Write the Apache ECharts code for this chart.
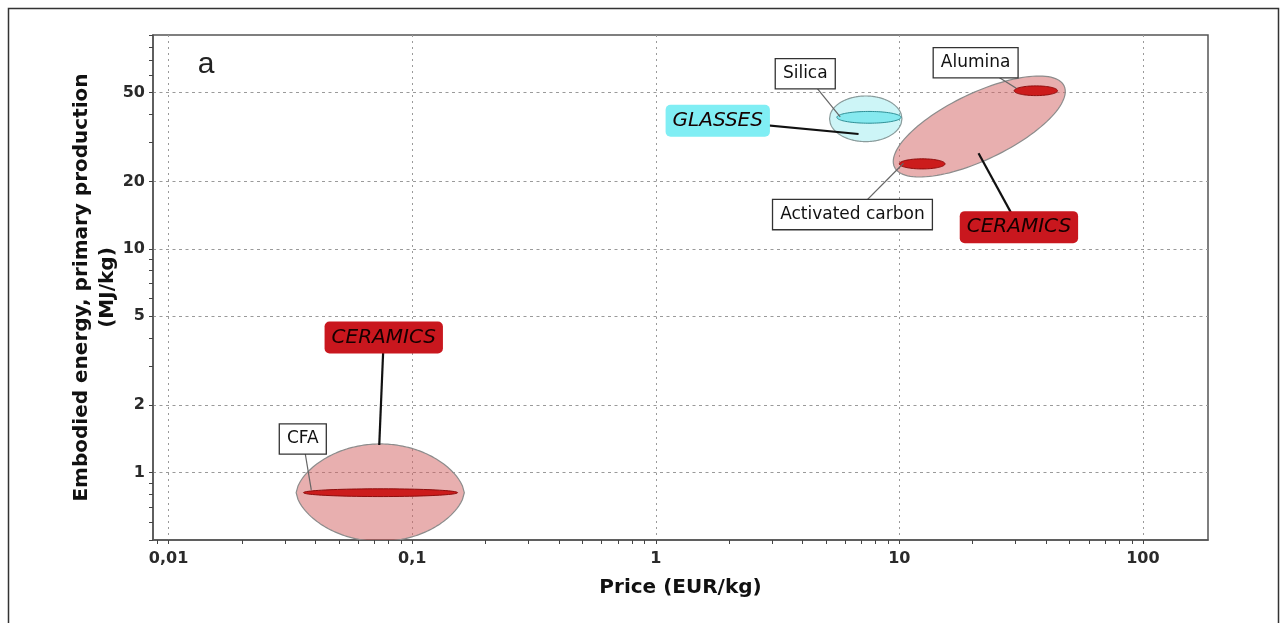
<!DOCTYPE html>
<html>
<head>
<meta charset="utf-8">
<script src="https://cdn.jsdelivr.net/npm/echarts@6/dist/echarts.min.js"></script>
<style>
  html, body { margin: 0; padding: 0; background: #fff; }
  #chart { width: 1282px; height: 623px; }
</style>
</head>
<body>
<div id="chart"></div>
<script>
// material bubbles: price (EUR/kg) and embodied energy (MJ/kg) ranges
var members = ['CFA', 'Activated carbon', 'Alumina', 'Silica'];
var memberPriceLow = [0.0358, 10.0, 29.6, 5.54];
var memberPriceHigh = [0.1536, 15.4, 44.6, 10.15];
var memberEnergyLow = [0.782, 22.8, 48.5, 36.5];
var memberEnergyHigh = [0.847, 25.3, 53.6, 41.2];
var memberFamily = ['CERAMICS', 'CERAMICS', 'CERAMICS', 'GLASSES'];

// family envelopes (the last one is given by its two tips)
var envelopes = ['CERAMICS', 'GLASSES', 'CERAMICS'];
var envPriceLow = [0.0334, 5.17, 9.55];
var envPriceHigh = [0.1637, 10.25, 47.45];
var envEnergyLow = [0.493, 30.2, 23.23];
var envEnergyHigh = [1.344, 48.3, 53.6];

var priceTicks = [0.01, 0.1, 1, 10, 100];
var energyTicks = [1, 2, 5, 10, 20, 50];

// label boxes: text, box anchor [price, energy], leader target [price, energy], kind
var callouts = [
    ['Silica', [4.109, 60.76], [5.72, 38.92], 'member'],
    ['Alumina', [20.57, 68.05], [30.20, 52.29], 'member'],
    ['Activated carbon', [6.42, 14.25], [10.40, 24.16], 'member'],
    ['CFA', [0.03556, 1.414], [0.03853, 0.837], 'member'],
    ['GLASSES', [1.797, 37.46], [6.80, 32.67], 'GLASSES'],
    ['CERAMICS', [30.97, 12.52], [21.14, 26.78], 'CERAMICS'],
    ['CERAMICS', [0.07644, 4.021], [0.07326, 1.330], 'CERAMICS']
];

var envStyle = [
    {kind: 'lens', q: 0.63, fill: 'rgba(210,95,95,0.5)', stroke: '#8c8c8c'},
    {kind: 'lens', q: 0.5, fill: 'rgba(130,230,235,0.4)', stroke: '#8a9c9c'},
    {kind: 'tilt', ratio: 0.354, fill: 'rgba(210,95,95,0.5)', stroke: '#8c8c8c'}
];
var memberFill = {CERAMICS: '#cc1c1c', GLASSES: '#86e9ef'};
var memberStroke = {CERAMICS: '#8e0d0d', GLASSES: '#2f8f96'};
var boxFill = {GLASSES: '#80eef4', CERAMICS: '#c9171e'};

function lg(v) { return Math.log(v) / Math.LN10; }
function pw(v) { return Math.pow(10, v); }

// minor ticks 2..9 in every decade
function minorTicks(lo, hi) {
    var out = [];
    for (var e = lo; e <= hi; e++) {
        for (var m = 1; m <= 9; m++) out.push(+(m * Math.pow(10, e)).toPrecision(3));
    }
    return out;
}
var xMinor = minorTicks(-3, 2);
var yMinor = minorTicks(-1, 1);

var axisFont = {fontFamily: 'DejaVu Sans', fontWeight: 'bold', fontSize: 16, color: '#2a2a2a'};

var myChart = echarts.init(document.getElementById('chart'));

var option = {
    backgroundColor: '#fff',
    animation: false,
    grid: {
        left: 153, top: 35, right: 74, bottom: 83,
        show: true, borderColor: '#555', borderWidth: 1.5,
        outerBoundsMode: 'none'
    },
    graphic: [
        {type: 'rect', left: 6, top: 6, z: 100, silent: true,
         shape: {width: 1270, height: 700},
         style: {fill: null, stroke: '#333', lineWidth: 1.5}},
        {type: 'text', x: 206, y: 65, z: 100,
         style: {text: 'a', font: '30px "Liberation Sans"', fill: '#222', align: 'center', verticalAlign: 'middle'}}
    ],
    xAxis: [
        {
            type: 'log', logBase: 10, min: 0.00863, max: 185,
            name: 'Price (EUR/kg)', nameLocation: 'middle', nameGap: 38, nameMoveOverlap: false,
            nameTextStyle: {fontFamily: 'DejaVu Sans', fontWeight: 'bold', fontSize: 20, color: '#111'},
            axisLine: {show: true, lineStyle: {color: '#555', width: 1.5}},
            axisTick: {show: true, length: 4, customValues: priceTicks, lineStyle: {color: '#444'}},
            axisLabel: Object.assign({customValues: priceTicks, margin: 11,
                formatter: function (v) { return String(v).replace('.', ','); }}, axisFont),
            splitLine: {show: true, lineStyle: {color: '#9a9a9a', width: 1, type: [2, 4]}}
        },
        {
            type: 'log', logBase: 10, min: 0.00863, max: 185, position: 'bottom',
            axisLine: {show: false},
            axisTick: {show: true, length: 4, customValues: xMinor, lineStyle: {color: '#444'}},
            axisLabel: {show: false},
            splitLine: {show: false}
        }
    ],
    yAxis: [
        {
            type: 'log', logBase: 10, min: 0.5, max: 90.5,
            name: 'Embodied energy, primary production\n(MJ/kg)', nameLocation: 'middle', nameGap: 32,
            nameRotate: 90, nameMoveOverlap: false,
            nameTextStyle: {fontFamily: 'DejaVu Sans', fontWeight: 'bold', fontSize: 20, lineHeight: 26, color: '#111'},
            axisLine: {show: true, lineStyle: {color: '#555', width: 1.5}},
            axisTick: {show: true, length: 4, customValues: energyTicks, lineStyle: {color: '#444'}},
            axisLabel: Object.assign({customValues: energyTicks, margin: 8}, axisFont),
            splitLine: {show: true, lineStyle: {color: '#9a9a9a', width: 1, type: [3, 3.5]}}
        },
        {
            type: 'log', logBase: 10, min: 0.5, max: 90.5, position: 'left',
            axisLine: {show: false},
            axisTick: {show: true, length: 4, customValues: yMinor, lineStyle: {color: '#444'}},
            axisLabel: {show: false},
            splitLine: {show: false}
        }
    ],
    series: [
        {
            name: 'envelopes',
            type: 'custom',
            clip: true,
            z: 2,
            encode: {x: [0, 1], y: [2, 3]},
            data: envelopes.map(function (n, i) {
                return [envPriceLow[i], envPriceHigh[i], envEnergyLow[i], envEnergyHigh[i]];
            }),
            renderItem: function (params, api) {
                var s = envStyle[params.dataIndex];
                var x0 = api.value(0), x1 = api.value(1), y0 = api.value(2), y1 = api.value(3);
                var pts = [], k, n = 90;
                if (s.kind === 'lens') {
                    var cx = (lg(x0) + lg(x1)) / 2, hw = (lg(x1) - lg(x0)) / 2;
                    var cy = (lg(y0) + lg(y1)) / 2, hh = (lg(y1) - lg(y0)) / 2;
                    for (k = 0; k <= n; k++) {
                        var t = -1 + 2 * k / n;
                        pts.push(api.coord([pw(cx + t * hw), pw(cy + hh * Math.pow(Math.max(0, 1 - t * t), s.q))]));
                    }
                    for (k = n; k >= 0; k--) {
                        var t2 = -1 + 2 * k / n;
                        pts.push(api.coord([pw(cx + t2 * hw), pw(cy - hh * Math.pow(Math.max(0, 1 - t2 * t2), s.q))]));
                    }
                } else {
                    var p1 = api.coord([x0, y0]), p2 = api.coord([x1, y1]);
                    var mx = (p1[0] + p2[0]) / 2, my = (p1[1] + p2[1]) / 2;
                    var dx = (p2[0] - p1[0]) / 2, dy = (p2[1] - p1[1]) / 2;
                    var a = Math.sqrt(dx * dx + dy * dy), b = a * s.ratio;
                    var ux = dx / a, uy = dy / a;
                    for (k = 0; k < 120; k++) {
                        var th = 2 * Math.PI * k / 120;
                        pts.push([mx + a * Math.cos(th) * ux - b * Math.sin(th) * uy,
                                  my + a * Math.cos(th) * uy + b * Math.sin(th) * ux]);
                    }
                }
                return {type: 'polygon', shape: {points: pts},
                        style: {fill: s.fill, stroke: s.stroke, lineWidth: 1.2}};
            }
        },
        {
            name: 'materials',
            type: 'custom',
            z: 3,
            encode: {x: [0, 1], y: [2, 3]},
            data: members.map(function (n, i) {
                return [memberPriceLow[i], memberPriceHigh[i], memberEnergyLow[i], memberEnergyHigh[i]];
            }),
            renderItem: function (params, api) {
                var fam = memberFamily[params.dataIndex];
                var lx0 = lg(api.value(0)), lx1 = lg(api.value(1));
                var ly0 = lg(api.value(2)), ly1 = lg(api.value(3));
                var cx = (lx0 + lx1) / 2, rx = (lx1 - lx0) / 2, cy = (ly0 + ly1) / 2, ry = (ly1 - ly0) / 2;
                var pts = [];
                for (var k = 0; k < 90; k++) {
                    var th = 2 * Math.PI * k / 90;
                    pts.push(api.coord([pw(cx + rx * Math.cos(th)), pw(cy + ry * Math.sin(th))]));
                }
                return {type: 'polygon', shape: {points: pts},
                        style: {fill: memberFill[fam], stroke: memberStroke[fam], lineWidth: 1}};
            }
        },
        {
            name: 'labels',
            type: 'custom',
            z: 5,
            encode: {x: [0, 2], y: [1, 3]},
            data: callouts.map(function (c) { return [c[1][0], c[1][1], c[2][0], c[2][1]]; }),
            renderItem: function (params, api) {
                var c = callouts[params.dataIndex];
                var p = api.coord([api.value(0), api.value(1)]);
                var q = api.coord([api.value(2), api.value(3)]);
                var isMember = c[3] === 'member';
                return {
                    type: 'group',
                    children: [
                        {type: 'line', shape: {x1: p[0], y1: p[1], x2: q[0], y2: q[1]},
                         style: {stroke: isMember ? '#666' : '#111', lineWidth: isMember ? 1.2 : 2.2}},
                        {type: 'text', x: p[0], y: p[1],
                         style: isMember ? {
                             text: c[0], font: '17px "DejaVu Sans"', fill: '#111',
                             align: 'center', verticalAlign: 'middle', lineHeight: 17,
                             backgroundColor: '#fff', borderColor: '#333', borderWidth: 1.3,
                             padding: [6, 7]
                         } : {
                             text: c[0], font: 'italic 20px "DejaVu Sans"', fill: '#160000',
                             align: 'center', verticalAlign: 'middle', lineHeight: 20,
                             backgroundColor: boxFill[c[3]], borderRadius: 5,
                             padding: [6, 7]
                         }}
                    ]
                };
            }
        }
    ]
};

myChart.setOption(option);
</script>
</body>
</html>
